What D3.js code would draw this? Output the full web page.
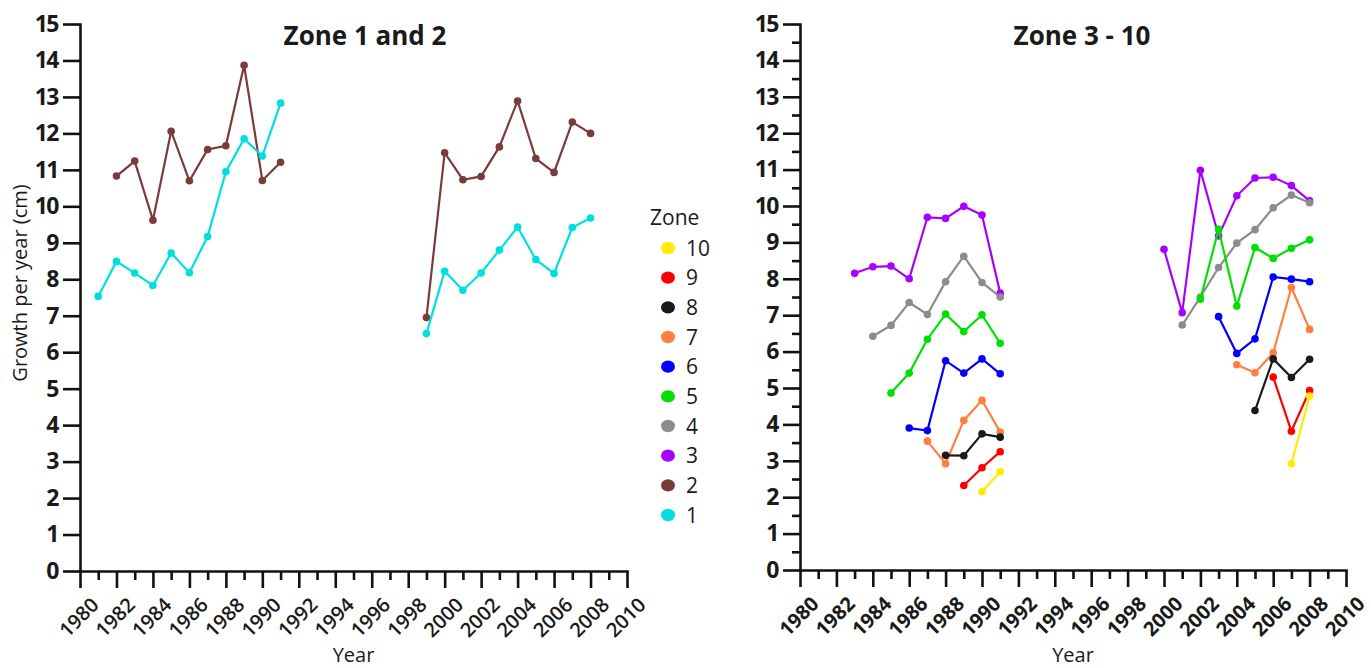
<!DOCTYPE html>
<html>
<head>
<meta charset="utf-8">
<script src="https://cdn.jsdelivr.net/npm/d3@7"></script>
<style>
  html, body { margin: 0; padding: 0; background: #fff; }
  svg { display: block; }
  text { font-family: "Open Sans", "Liberation Sans", sans-serif; fill: #1a1a1a; }
</style>
</head>
<body>
<svg id="chart" width="1371" height="668"></svg>
<script>
// Growth per year (cm) by zone. Early segments end in 1991, late segments end in 2008.
const EARLY_END = 1991;
const LATE_END = 2008;

const zone1Early = [7.53, 8.49, 8.17, 7.83, 8.72, 8.18, 9.17, 10.95, 11.85, 11.38, 12.83];
const zone1Late  = [6.51, 8.22, 7.70, 8.17, 8.80, 9.43, 8.54, 8.16, 9.42, 9.68];
const zone2Early = [10.83, 11.24, 9.62, 12.06, 10.70, 11.56, 11.66, 13.87, 10.71, 11.21];
const zone2Late  = [6.95, 11.47, 10.73, 10.82, 11.63, 12.89, 11.31, 10.93, 12.31, 12.00];
const zone3Early = [8.15, 8.33, 8.35, 8.00, 9.69, 9.66, 9.99, 9.75, 7.61];
const zone3Late  = [8.81, 7.07, 10.98, 9.18, 10.28, 10.77, 10.79, 10.56, 10.14];
const zone4Early = [6.42, 6.72, 7.35, 7.02, 7.92, 8.62, 7.90, 7.50];
const zone4Late  = [6.73, 7.50, 8.31, 8.98, 9.35, 9.95, 10.30, 10.09];
const zone5Early = [4.86, 5.41, 6.34, 7.03, 6.55, 7.01, 6.23];
const zone5Late  = [7.44, 9.36, 7.25, 8.86, 8.56, 8.84, 9.07];
const zone6Early = [3.90, 3.83, 5.75, 5.41, 5.80, 5.39];
const zone6Late  = [6.96, 5.95, 6.35, 8.05, 7.99, 7.92];
const zone7Early = [3.54, 2.92, 4.11, 4.66, 3.79];
const zone7Late  = [5.64, 5.42, 5.97, 7.76, 6.61];
const zone8Early = [3.15, 3.14, 3.74, 3.65];
const zone8Late  = [4.38, 5.80, 5.29, 5.79];
const zone9Early = [2.32, 2.81, 3.25];
const zone9Late  = [5.30, 3.81, 4.93];
const zone10Early = [2.15, 2.70];
const zone10Late  = [2.92, 4.78];

const zoneNames  = ["1", "2", "3", "4", "5", "6", "7", "8", "9", "10"];
const zoneColors = ["#00DFE0", "#7B3B3B", "#A800FF", "#8C8C8C", "#00E000",
                    "#0000FF", "#FF7F40", "#1A1A1A", "#FF0000", "#FFEA00"];

const yTicks = d3.range(0, 16);
const xTickYears = d3.range(1980, 2011, 2);
const xMinorYears = d3.range(1981, 2010, 2);

const zoneSegments = [
  [zone1Early, zone1Late], [zone2Early, zone2Late], [zone3Early, zone3Late],
  [zone4Early, zone4Late], [zone5Early, zone5Late], [zone6Early, zone6Late],
  [zone7Early, zone7Late], [zone8Early, zone8Late], [zone9Early, zone9Late],
  [zone10Early, zone10Late]
];

// Turn a value list ending at a given year into [year, value] points
function toPoints(values, endYear) {
  return values.map((v, i) => ({ year: endYear - (values.length - 1 - i), value: v }));
}

const series = zoneNames.map((name, i) => ({
  name, color: zoneColors[i],
  segments: [toPoints(zoneSegments[i][0], EARLY_END), toPoints(zoneSegments[i][1], LATE_END)]
}));

const svg = d3.select("#chart");

function drawPanel(cfg) {
  const x = d3.scaleLinear().domain([1980, 2010]).range([cfg.left, cfg.right]);
  const y = d3.scaleLinear().domain([0, 15]).range([cfg.bottom, cfg.top]);
  const g = svg.append("g");

  // minor ticks
  g.append("g")
    .attr("transform", `translate(0,${cfg.bottom})`)
    .call(d3.axisBottom(x).tickValues(xMinorYears).tickSize(9).tickSizeOuter(0).tickFormat(""))
    .call(a => a.select(".domain").remove());
  if (cfg.minorY) {
    g.append("g")
      .attr("transform", `translate(${cfg.left},0)`)
      .call(d3.axisLeft(y).tickValues(d3.range(0.5, 15, 1)).tickSize(8).tickSizeOuter(0).tickFormat(""))
      .call(a => a.select(".domain").remove());
  }

  // x axis
  const xa = g.append("g")
    .attr("transform", `translate(0,${cfg.bottom})`)
    .call(d3.axisBottom(x).tickValues(xTickYears).tickSize(17).tickSizeOuter(0).tickFormat(d3.format("d")));
  xa.selectAll("text")
    .attr("text-anchor", "middle")
    .attr("dy", null)
    .attr("y", null)
    .attr("dominant-baseline", "central")
    .attr("transform", "translate(-2,46) rotate(-45)")
    .style("font-size", "20px")
    .style("font-weight", cfg.xBold ? "700" : "600")
    .style("font-family", "'Open Sans', sans-serif");

  // y axis
  const ya = g.append("g")
    .attr("transform", `translate(${cfg.left},0)`)
    .call(d3.axisLeft(y).tickValues(yTicks).tickSize(17).tickSizeOuter(0).tickPadding(5));
  ya.selectAll("text")
    .style("font-size", "23px")
    .style("font-weight", "700")
    .style("letter-spacing", "-1.5px")
    .style("font-family", "'Open Sans', sans-serif");

  g.selectAll(".domain, .tick line").attr("stroke", "#111").attr("stroke-width", 2.6);
  g.selectAll(".domain").attr("stroke-linecap", "square");

  // title
  g.append("text")
    .attr("x", cfg.titleX).attr("y", 45)
    .attr("text-anchor", "middle")
    .style("font-size", "26px").style("font-weight", "700")
    .text(cfg.title);

  // x axis title
  g.append("text")
    .attr("x", (cfg.left + cfg.right) / 2).attr("y", 662)
    .attr("text-anchor", "middle")
    .style("font-size", "20px")
    .text("Year");

  const line = d3.line().x(d => x(d.year)).y(d => y(d.value));
  cfg.zones.forEach(idx => {
    const s = series[idx];
    const sg = g.append("g");
    s.segments.forEach(seg => {
      sg.append("path").datum(seg)
        .attr("d", line)
        .attr("fill", "none")
        .attr("stroke", s.color)
        .attr("stroke-width", 2.2);
      sg.selectAll(null).data(seg).join("circle")
        .attr("cx", d => x(d.year)).attr("cy", d => y(d.value))
        .attr("r", 3.8).attr("fill", s.color);
    });
  });
  return { x, y };
}

drawPanel({ left: 80, right: 627, top: 24, bottom: 571, title: "Zone 1 and 2",
            titleX: 365, zones: [1, 0], minorY: false, xBold: false });
drawPanel({ left: 800, right: 1346, top: 24, bottom: 570, title: "Zone 3 - 10",
            titleX: 1082, zones: [2, 3, 4, 5, 6, 7, 8, 9], minorY: true, xBold: true });

// y axis title
svg.append("text")
  .attr("transform", "translate(27,283) rotate(-90)")
  .attr("text-anchor", "middle")
  .style("font-size", "20px")
  .text("Growth per year (cm)");

// legend
const legend = svg.append("g");
legend.append("text").attr("x", 650).attr("y", 225)
  .style("font-size", "21px").text("Zone");
const legendScale = d3.scalePoint().domain(zoneNames.slice().reverse()).range([248, 515]);
const items = legend.selectAll("g.item").data(series.slice().reverse()).join("g").attr("class", "item")
  .attr("transform", d => `translate(0,${legendScale(d.name)})`);
items.append("ellipse").attr("cx", 668).attr("cy", 0).attr("rx", 7).attr("ry", 6.2)
  .attr("fill", d => d.color);
items.append("text").attr("x", 686).attr("y", 0).attr("dy", "0.36em")
  .style("font-size", "21px").text(d => d.name);
</script>
</body>
</html>
